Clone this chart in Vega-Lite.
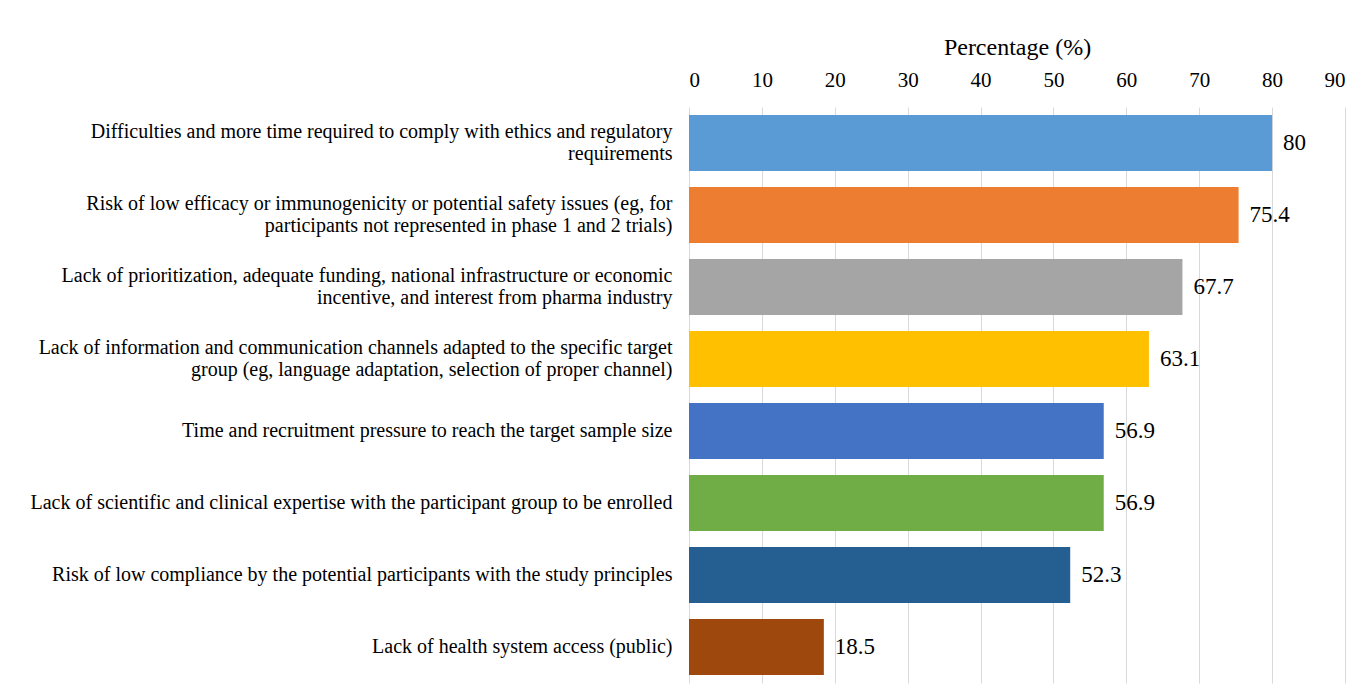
{
  "$schema": "https://vega.github.io/schema/vega-lite/v6.json",
  "width": 656,
  "height": 576,
  "autosize": "none",
  "padding": {"left": 689, "top": 107, "right": 17, "bottom": 5},
  "background": "white",
  "config": {
    "view": {"stroke": null},
    "font": "Liberation Serif, DejaVu Serif, serif"
  },
  "data": {
    "values": [
      {"barrier": "Difficulties and more time required to comply with ethics and regulatory|requirements", "pct": 80, "order": 1},
      {"barrier": "Risk of low efficacy or immunogenicity or potential safety issues (eg, for|participants not represented in phase 1 and 2 trials)", "pct": 75.4, "order": 2},
      {"barrier": "Lack of prioritization, adequate funding, national infrastructure or economic|incentive, and interest from pharma industry", "pct": 67.7, "order": 3},
      {"barrier": "Lack of information and communication channels adapted to the specific target|group (eg, language adaptation, selection of proper channel)", "pct": 63.1, "order": 4},
      {"barrier": "Time and recruitment pressure to reach the target sample size", "pct": 56.9, "order": 5},
      {"barrier": "Lack of scientific and clinical expertise with the participant group to be enrolled", "pct": 56.9, "order": 6},
      {"barrier": "Risk of low compliance by the potential participants with the study principles", "pct": 52.3, "order": 7},
      {"barrier": "Lack of health system access (public)", "pct": 18.5, "order": 8}
    ]
  },
  "encoding": {
    "y": {
      "field": "barrier",
      "type": "nominal",
      "sort": {"field": "order", "order": "ascending"},
      "scale": {"paddingInner": 0.22, "paddingOuter": 0.11},
      "axis": {
        "title": null,
        "domain": false,
        "ticks": false,
        "labelExpr": "split(datum.label, '|')",
        "labelFont": "Liberation Serif, DejaVu Serif, serif",
        "labelFontSize": 20,
        "labelColor": "#000000",
        "labelLineHeight": 22,
        "labelPadding": 17,
        "labelLimit": 0,
        "labelOffset": {"condition": {"test": "indexof(datum.label, '|') >= 0", "value": -11}, "value": 0}
      }
    },
    "x": {
      "field": "pct",
      "type": "quantitative",
      "scale": {"domain": [0, 90]},
      "axis": {
        "orient": "top",
        "title": "Percentage (%)",
        "titleFont": "Liberation Serif, DejaVu Serif, serif",
        "titleFontSize": 24,
        "titleFontWeight": "normal",
        "titleColor": "#000000",
        "titlePadding": 10,
        "values": [0, 10, 20, 30, 40, 50, 60, 70, 80, 90],
        "domain": false,
        "ticks": false,
        "labelFont": "Liberation Serif, DejaVu Serif, serif",
        "labelFontSize": 21,
        "labelColor": "#000000",
        "labelPadding": 17,
        "grid": true,
        "gridColor": "#d9d9d9",
        "gridWidth": 1
      }
    }
  },
  "layer": [
    {
      "mark": {"type": "bar"},
      "encoding": {
        "color": {
          "field": "barrier",
          "type": "nominal",
          "sort": {"field": "order", "order": "ascending"},
          "scale": {"range": ["#5B9BD5", "#ED7D31", "#A5A5A5", "#FFC000", "#4472C4", "#70AD47", "#255E91", "#9E480E"]},
          "legend": null
        }
      }
    },
    {
      "mark": {"type": "text", "align": "left", "baseline": "middle", "dx": 11, "font": "Liberation Serif, DejaVu Serif, serif", "fontSize": 23, "color": "#000000"},
      "encoding": {
        "text": {"field": "pct", "type": "quantitative"}
      }
    }
  ]
}
